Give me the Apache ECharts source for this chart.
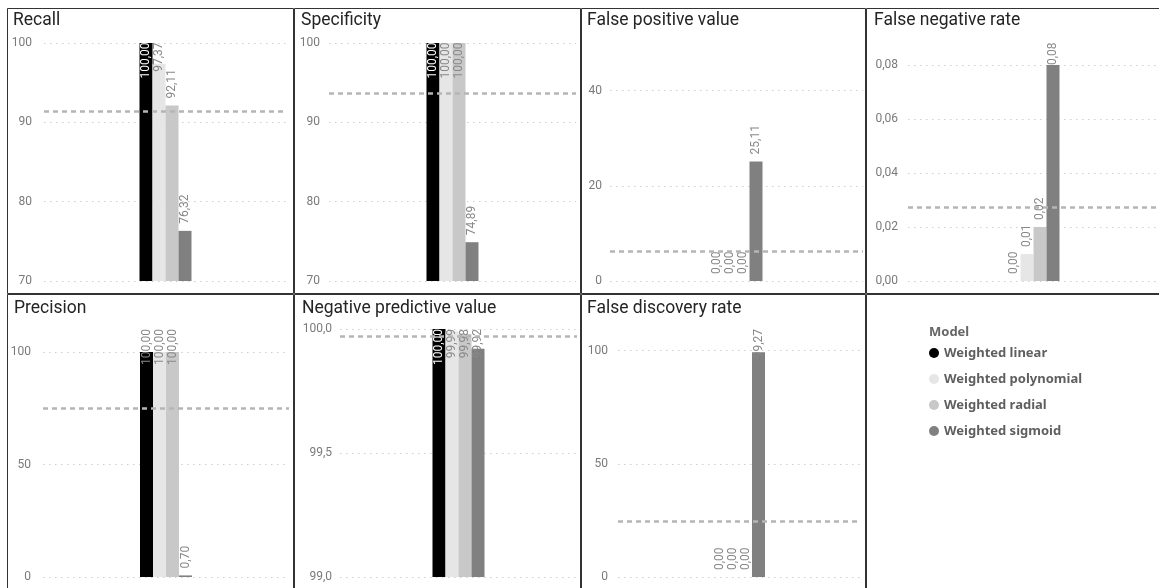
<!DOCTYPE html>
<html><head><meta charset="utf-8">
<script src="https://cdn.jsdelivr.net/npm/echarts@6/dist/echarts.min.js"></script>
<style>html,body{margin:0;padding:0;background:#fff}#c{width:1159px;height:588px}</style>
</head><body><div id="c"></div>
<script>
// ---- data ----
const models = ['Weighted linear', 'Weighted polynomial', 'Weighted radial', 'Weighted sigmoid'];
const recall = [100.00, 97.37, 92.11, 76.32];
const specificity = [100.00, 100.00, 100.00, 74.89];
const falsePositiveValue = [0.00, 0.00, 0.00, 25.11];
const falseNegativeRate = [0.00, 0.01, 0.02, 0.08];
const precision = [100.00, 100.00, 100.00, 0.70];
const negativePredictiveValue = [100.00, 99.99, 99.98, 99.92];
const falseDiscoveryRate = [0.00, 0.00, 0.00, 99.27];

const recallTicks = [70, 80, 90, 100];
const specificityTicks = [70, 80, 90, 100];
const fpvTicks = [0, 20, 40];
const fnrTicks = [0, 0.02, 0.04, 0.06, 0.08];
const precisionTicks = [0, 50, 100];
const npvTicks = [99.0, 99.5, 100.0];
const fdrTicks = [0, 50, 100];

// ---- styles / layout ----
const modelColors = ['#000000', '#E6E6E6', '#C8C8C8', '#808080'];
const LABEL_FONT = 'Roboto';
const LABEL_SIZE = 12;
const LABEL_GRAY = '#888888';

const panels = [
  {title: 'Recall', values: recall, ticks: recallTicks, dec: 0, grid: {left: 44, top: 43, width: 243, height: 238}, tpos: [13, 12], limit: 42.5, margin: 12},
  {title: 'Specificity', values: specificity, ticks: specificityTicks, dec: 0, grid: {left: 329, top: 43, width: 247, height: 238}, tpos: [301, 12], limit: 42.5, margin: 9},
  {title: 'False positive value', values: falsePositiveValue, ticks: fpvTicks, dec: 0, grid: {left: 610, top: 90.5, width: 253, height: 190.5}, tpos: [587, 12], limit: 42.5, margin: 8},
  {title: 'False negative rate', values: falseNegativeRate, ticks: fnrTicks, dec: 2, grid: {left: 908, top: 65, width: 251, height: 216}, tpos: [874, 12], limit: 42.5, margin: 10},
  {title: 'Precision', values: precision, ticks: precisionTicks, dec: 0, grid: {left: 43, top: 352, width: 246, height: 225}, tpos: [14, 299.5], limit: 329, margin: 12},
  {title: 'Negative predictive value', values: negativePredictiveValue, ticks: npvTicks, dec: 1, grid: {left: 340, top: 329, width: 237, height: 248}, tpos: [302, 299.5], limit: 329, margin: 8},
  {title: 'False discovery rate', values: falseDiscoveryRate, ticks: fdrTicks, dec: 0, grid: {left: 618, top: 350.5, width: 242, height: 226.5}, tpos: [587, 299.5], limit: 329, margin: 10}
];

function fmt(v, d) { return v.toFixed(d).replace('.', ','); }
function mean(a) { return a.reduce((s, x) => s + x, 0) / a.length; }

const chart = echarts.init(document.getElementById('c'), null, {renderer: 'canvas'});

const titles = panels.map(p => ({
  text: p.title, left: p.tpos[0], top: p.tpos[1], padding: 0,
  textStyle: {fontFamily: 'Roboto', fontSize: 17.5, fontWeight: 'normal', color: '#252423', lineHeight: 18}
}));
titles.push({text: 'Model', left: 929, top: 324, padding: 0,
  textStyle: {fontFamily: 'Noto Sans', fontSize: 13, fontWeight: 'bold', color: '#666666', lineHeight: 16}});

const grids = panels.map(p => Object.assign({containLabel: false}, p.grid));
const xAxes = panels.map((p, i) => ({type: 'category', gridIndex: i, data: [''], show: false}));
const yAxes = panels.map((p, i) => ({
  type: 'value', gridIndex: i,
  min: p.ticks[0], max: p.ticks[p.ticks.length - 1], interval: p.ticks[1] - p.ticks[0],
  axisLine: {show: false}, axisTick: {show: false},
  axisLabel: {color: '#7a7a7a', fontFamily: 'Roboto', fontSize: 12, margin: p.margin, formatter: v => fmt(v, p.dec)},
  splitLine: {show: true, lineStyle: {color: '#cfcfcf', width: 1, type: [1.5, 4.5]}}
}));

function buildSeries(labelInfo) {
  const series = [];
  panels.forEach((p, i) => {
    models.forEach((m, j) => {
      const v = p.values[j];
      const info = labelInfo ? labelInfo[i][j] : {dist: 7, color: LABEL_GRAY};
      const s = {
        type: 'bar', name: m, xAxisIndex: i, yAxisIndex: i,
        barWidth: 13, barGap: '0%',
        itemStyle: {color: modelColors[j]},
        emphasis: {disabled: true},
        data: [{value: v, label: {
          show: true, position: 'top', distance: info.dist, rotate: 90,
          align: 'left', verticalAlign: 'middle', color: info.color,
          fontFamily: LABEL_FONT, fontSize: LABEL_SIZE,
          formatter: () => fmt(v, 2)
        }}]
      };
      if (j === models.length - 1) {
        s.markLine = {
          silent: true, symbol: 'none', label: {show: false}, precision: 6,
          lineStyle: {color: '#b5b5b5', width: 2.5, type: [5, 4]},
          data: [{yAxis: mean(p.values)}]
        };
      }
      series.push(s);
    });
  });
  return series;
}

const border = (x, y, w, h) => ({type: 'rect', shape: {x, y, width: w, height: h},
  style: {fill: 'none', stroke: '#333333', lineWidth: 1}, silent: true, z: 100});

const option = {
  animation: false,
  backgroundColor: '#ffffff',
  title: titles,
  grid: grids,
  xAxis: xAxes,
  yAxis: yAxes,
  legend: {
    data: models, orient: 'vertical', left: 929, top: 345, padding: 0,
    itemWidth: 10, itemHeight: 10, itemGap: 10, icon: 'circle', selectedMode: false,
    textStyle: {fontFamily: 'Noto Sans', fontWeight: 'bold', fontSize: 13, color: '#5f5f5f', lineHeight: 16}
  },
  graphic: {elements: [
    border(7.5, 8.5, 286, 285), border(294.5, 8.5, 286, 285), border(581.5, 8.5, 284, 285), border(866.5, 8.5, 400, 285),
    border(7.5, 294.5, 286, 400), border(294.5, 294.5, 286, 400), border(581.5, 294.5, 284, 400), border(866.5, 294.5, 400, 400)
  ]},
  series: buildSeries(null)
};
chart.setOption(option);

// place value labels like the reference: above the bar, pushed down when they would leave the visual
const ctx = document.createElement('canvas').getContext('2d');
ctx.font = LABEL_SIZE + 'px ' + LABEL_FONT;
const labelInfo = panels.map((p, i) => p.values.map((v, j) => {
  const yb = chart.convertToPixel({yAxisIndex: i}, v);
  const L = ctx.measureText(fmt(v, 2)).width;
  const dist = Math.min(7, yb - p.limit - L);
  const inside = -dist;
  let color = LABEL_GRAY;
  if (j === 0 && inside > L / 2) color = '#ffffff';
  return {dist, color};
}));
chart.setOption({series: buildSeries(labelInfo)});
</script>
</body></html>
